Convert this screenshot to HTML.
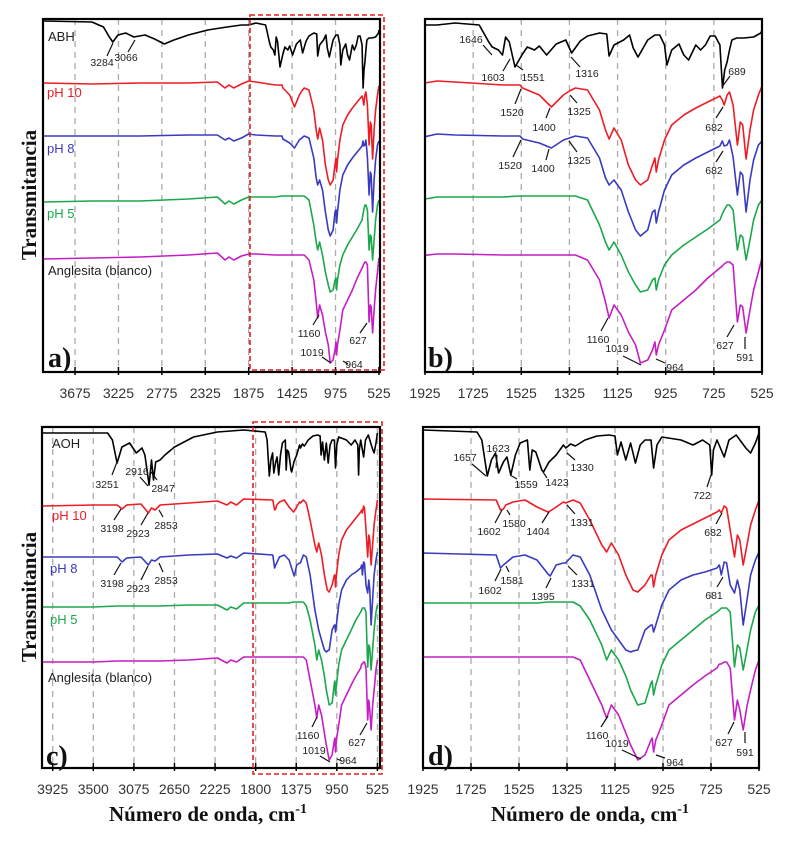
<!DOCTYPE html>
<html><head><meta charset="utf-8">
<style>
html,body{margin:0;padding:0;background:#fff;}
svg{display:block;}
text{font-family:"Liberation Sans",sans-serif;}
.tick{font-size:14px;fill:#333;text-anchor:middle;}
.ann{font-size:10.5px;fill:#222;text-anchor:middle;}
.lbl{font-size:13px;}
.ttl{font-family:"Liberation Serif",serif;font-weight:bold;}
</style></head>
<body>
<svg id="fig" width="791" height="846" viewBox="0 0 791 846" xmlns="http://www.w3.org/2000/svg">
<rect x="0" y="0" width="791" height="846" fill="#fff"/>
</svg>
<script>
// ---------- data (wavenumber cm-1, transmittance arbitrary units) ----------
const ticksAB_a = [3675,3225,2775,2325,1875,1425,975,525];
const ticksAB_b = [1925,1725,1525,1325,1125,925,725,525];
const ticksCD_c = [3925,3500,3075,2650,2225,1800,1375,950,525];
const ticksCD_d = [1925,1725,1525,1325,1125,925,725,525];

const abhWn = [4000,3500,3380,3320,3284,3230,3150,3066,2950,2850,2750,2650,2500,2300,2100,1950,1875,1800,1750,1700,1660,1646,1620,1603,1590,1575,1551,1520,1500,1470,1450,1420,1380,1340,1316,1280,1250,1200,1170,1160,1140,1100,1075,1060,1040,1000,970,950,930,920,900,870,850,830,800,780,760,740,720,700,695,689,680,670,660,650,630,600,560,530,525];
const abhT  = [351,350,345,335,330,337,339,335,337,333,328,332,337,342,345,347,347,349,348,347,330,325,322,317,335,330,305,318,325,322,326,317,328,332,319,331,336,339,338,316,327,332,337,324,315,332,337,337,327,307,322,328,317,312,327,322,327,336,336,327,307,284,302,310,322,332,334,334,335,339,342];

const redAWn = [4000,3500,3000,2500,2200,2120,2080,2030,1950,1875,1800,1600,1530,1520,1450,1400,1350,1325,1300,1250,1200,1175,1160,1140,1110,1080,1050,1030,1000,980,970,964,955,930,900,850,800,750,700,690,682,670,660,645,627,615,605,591,575,560,540,525];
const redAT  = [289,288,289,289,290,284,287,284,288,291,290,287,287,284,277,265,277,281,284,282,262,242,233,244,232,207,192,187,192,207,214,200,212,232,247,257,264,270,276,272,267,277,280,267,227,250,247,213,242,262,277,286];
const bluAT  = [236,236,236,237,237,232,234,231,234,238,237,236,236,233,229,224,232,234,236,234,214,194,187,192,182,160,142,136,142,160,162,149,160,182,197,207,214,220,226,231,226,227,232,215,177,200,197,160,192,212,227,231];
const grnAT  = [170,171,171,173,175,168,171,168,172,175,175,175,176,176,176,176,176,176,176,172,147,130,122,130,117,100,87,80,82,92,94,82,92,107,117,127,135,143,152,158,162,167,167,162,122,137,135,112,132,152,167,172];
const magAT  = [113,114,115,117,119,112,115,112,116,118,118,117,117,117,117,117,117,117,117,112,92,70,54,67,57,40,27,9,12,22,30,17,27,42,62,72,82,94,104,106,108,110,110,107,50,67,65,39,62,82,100,114];

const aohWn = [4030,3350,3300,3251,3200,3120,3050,2990,2960,2916,2890,2870,2847,2800,2750,2650,2450,2200,1925,1700,1680,1657,1640,1623,1610,1590,1575,1559,1540,1520,1490,1480,1470,1455,1430,1423,1400,1370,1340,1330,1310,1290,1250,1200,1150,1125,1115,1100,1080,1060,1040,1020,1000,975,964,950,930,850,800,760,730,722,715,700,670,650,620,580,560,540,525];
const aohT  = [335,335,328,305,321,325,315,320,313,283,308,288,306,308,313,321,331,336,338,336,328,292,308,315,295,306,311,293,313,325,328,298,318,316,298,296,306,313,323,320,324,322,328,332,333,332,313,326,308,325,305,323,328,328,300,323,331,328,323,328,323,293,318,328,311,328,333,320,315,325,335];

const cWn  = [4030,3500,3250,3198,3150,3000,2923,2890,2853,2800,2500,2200,2100,2060,2000,1925,1620,1602,1590,1580,1550,1500,1450,1404,1395,1370,1340,1331,1300,1270,1230,1180,1160,1140,1110,1080,1060,1050,1030,1000,975,970,964,955,930,900,850,800,750,700,690,682,670,660,645,627,615,605,591,575,560,540,525];
const redCT = [262,263,263,259,263,264,255,260,258,263,265,267,263,266,263,269,268,258,259,263,266,268,261,256,257,261,266,265,268,265,248,223,216,225,213,193,183,178,176,183,193,193,181,193,213,228,238,244,250,256,258,255,262,260,238,211,233,228,203,223,243,258,268];
const bluCT = [211,211,211,206,210,211,203,208,207,211,213,214,210,212,210,215,213,200,203,205,211,213,208,194,192,203,205,205,213,211,193,158,148,138,128,118,116,117,118,138,143,143,136,143,163,178,188,193,196,200,203,193,206,205,183,175,188,178,143,168,193,208,216];
const grnCT = [161,161,162,162,162,162,162,162,162,162,163,163,158,161,159,165,165,165,165,165,165,165,165,166,166,166,166,166,166,162,148,123,108,118,108,92,78,73,63,65,85,87,73,83,103,118,128,138,148,156,158,160,160,160,156,101,123,120,98,118,138,156,163];
const magCT = [106,106,107,107,107,107,107,107,107,107,108,110,105,108,106,111,111,111,111,111,111,111,111,111,111,111,111,111,111,108,88,63,50,63,53,35,23,18,8,13,28,30,16,28,43,63,73,83,92,100,104,104,106,106,100,48,68,58,38,62,78,98,108];

// ---------- panels ----------
const panels = [
 {id:'a', l:43, r:380, t:19, b:372, d0:4007, d1:514, ticks:ticksAB_a, base:372,
  series:[[abhWn,abhT,'#000'],[redAWn,redAT,'#ee1c25'],[redAWn,bluAT,'#3a3ac0'],[redAWn,grnAT,'#1ba84c'],[redAWn,magAT,'#c41fc4']]},
 {id:'b', l:425, r:762, t:19, b:372, d0:1925, d1:525, ticks:ticksAB_b, base:372,
  series:[[abhWn,abhT,'#000'],[redAWn,redAT,'#ee1c25'],[redAWn,bluAT,'#3a3ac0'],[redAWn,grnAT,'#1ba84c'],[redAWn,magAT,'#c41fc4']]},
 {id:'c', l:42, r:380, t:427, b:768, d0:4037, d1:498, ticks:ticksCD_c, base:768,
  series:[[aohWn,aohT,'#000'],[cWn,redCT,'#ee1c25'],[cWn,bluCT,'#3a3ac0'],[cWn,grnCT,'#1ba84c'],[cWn,magCT,'#c41fc4']]},
 {id:'d', l:423, r:759, t:427, b:768, d0:1925, d1:525, ticks:ticksCD_d, base:768,
  series:[[aohWn,aohT,'#000'],[cWn,redCT,'#ee1c25'],[cWn,bluCT,'#3a3ac0'],[cWn,grnCT,'#1ba84c'],[cWn,magCT,'#c41fc4']]}
];
const seriesNames = ['organic-reagent','ph10','ph8','ph5','anglesite-blank'];

const NS='http://www.w3.org/2000/svg';
const svg=document.getElementById('fig');
function mk(tag,attrs,parent){const e=document.createElementNS(NS,tag);for(const k in attrs)e.setAttribute(k,attrs[k]);(parent||svg).appendChild(e);return e;}

panels.forEach(p=>{
  const g=mk('g',{});
  
  
  const xs=v=>p.l+(p.d0-v)*(p.r-p.l)/(p.d0-p.d1);
  const ys=v=>p.base-v;
  const cp=mk('clipPath',{id:'clip'+p.id},g);
  mk('rect',{x:p.l,y:p.t,width:p.r-p.l,height:p.b-p.t},cp);
  p.ticks.forEach(tv=>{
    const x=xs(tv);
    if(x>p.l+2&&x<p.r-2){
      const gl=mk('line',{x1:x,y1:p.t,x2:x,y2:p.b,stroke:'#aaa','stroke-width':1.3,'stroke-dasharray':'6,5'},g);
      
      
    }
    const tm=mk('line',{x1:x,y1:p.b-5,x2:x,y2:p.b+3,stroke:'#000','stroke-width':1.5},g);
    
    
    const tl=mk('text',{x:x,y:p.b+26,class:'tick'},g);
    tl.textContent=tv;
    
    
  });
  p.series.forEach((s,i)=>{
    const [wn,tv,col]=s;
    let dstr='';
    wn.forEach((w,k)=>{dstr+=(k?'L':'M')+xs(w).toFixed(1)+','+ys(tv[k]).toFixed(1);});
    const pa=mk('path',{d:dstr,fill:'none',stroke:col,'stroke-width':1.6,'stroke-linejoin':'round','clip-path':'url(#clip'+p.id+')'},g);
    
    
  });
  const bx=mk('rect',{x:p.l,y:p.t,width:p.r-p.l,height:p.b-p.t,fill:'none',stroke:'#000','stroke-width':2.2},g);
  
  
});

// zoom boxes
[[250,15,134,355],[253,422,129,352]].forEach(r=>{
  const z=mk('rect',{x:r[0],y:r[1],width:r[2],height:r[3],fill:'none',stroke:'#e02020','stroke-width':1.6,'stroke-dasharray':'5,3'});
  
  
});

// series labels
const labels=[["ABH",48,41,'#222'],["pH 10",47,97,'#ee1c25'],["pH 8",47,153,'#3a3ac0'],["pH 5",47,218,'#1ba84c'],["Anglesita  (blanco)",48,275,'#222'],
 ["AOH",52,448,'#222'],["pH 10",52,520,'#ee1c25'],["pH 8",50,573,'#3a3ac0'],["pH 5",50,624,'#1ba84c'],["Anglesita  (blanco)",48,682,'#222']];
labels.forEach(l=>{
  const t=mk('text',{x:l[1],y:l[2],class:'lbl',fill:l[3]});
  t.textContent=l[0];
  
  
});

// peak annotations: text, tx, ty(center), line x1,y1,x2,y2
const anns=[
 ["3284",102,62,107,56,113,43],["3066",126,57,128,52,135,40],["1160",309,333,313,325,319,315],["627",358,340,360,333,367,323],["1019",312,352,322,357,331,363],["964",354,364,343,361,348,364],
 ["1646",471,39,483,45,492,55],["1603",493,77,503,71,510,59],["1551",533,77,523,70,516,65],["1316",587,73,580,67,571,57],["689",737,71,730,76,722,87],
 ["1520",512,112,515,104,521,89],["1400",544,127,546,118,550,108],["1325",579,111,577,103,570,95],["682",714,127,716,118,723,107],
 ["1520",510,165,513,157,521,140],["1400",543,168,546,160,549,149],["1325",579,160,577,152,569,141],["682",714,170,716,162,723,151],
 ["1160",598,339,601,331,608,318],["1019",617,348,623,356,641,365],["964",675,367,656,359,665,363],["627",725,345,727,337,734,325],["591",745,357,745,349,745,337],
 ["3251",107,484,112,475,117,462],["2916",137,471,140,477,148,486],["2847",163,488,157,480,151,472],
 ["3198",112,528,114,520,121,509],["2923",138,533,141,525,148,513],["2853",166,525,163,517,159,510],
 ["3198",112,583,114,575,121,563],["2923",138,588,141,580,148,566],["2853",166,580,163,572,159,563],
 ["1160",308,735,312,727,317,717],["627",357,742,360,735,367,723],["1019",314,750,320,756,330,762],["964",348,760,337,759,342,761],
 ["1657",465,457,472,464,486,476],["1623",498,448,497,455,496,468],["1559",526,484,517,479,510,475],["1423",557,482,547,478,543,472],["1330",582,467,575,460,567,453],["722",702,495,707,487,711,475],
 ["1602",489,531,495,523,502,510],["1580",514,523,510,515,507,510],["1404",538,531,542,523,549,512],["1331",582,522,575,514,567,505],["682",713,532,716,524,722,513],
 ["1602",490,590,495,581,501,569],["1581",512,580,509,572,506,566],["1395",543,596,546,588,551,578],["1331",583,583,577,575,568,566],["681",714,595,717,587,723,577],
 ["1160",597,735,601,727,608,716],["1019",617,743,622,750,641,759],["964",675,762,656,755,665,758],["627",724,742,728,734,734,722],["591",745,752,745,743,745,732]
];
anns.forEach(a=>{
  const ln=mk('line',{x1:a[3],y1:a[4],x2:a[5],y2:a[6],stroke:'#111','stroke-width':1.2});
  
  
  const t=mk('text',{x:a[1],y:a[2]+4,class:'ann'});
  t.textContent=a[0];
  
  
});

// panel letters
[["a)",48,367],["b)",428,367],["c)",46,765],["d)",428,765]].forEach(l=>{
  const t=mk('text',{x:l[1],y:l[2],class:'ttl','font-size':28,fill:'#111'});
  t.textContent=l[0];
  
  
});

// y-axis titles
[[36,195],[36,597]].forEach(p=>{
  const t=mk('text',{x:p[0],y:p[1],class:'ttl','font-size':21,'text-anchor':'middle',fill:'#111',transform:'rotate(-90 '+p[0]+' '+p[1]+')'});
  t.textContent='Transmitancia';
  
  
});
// x-axis titles
[[208,821],[590,821]].forEach(p=>{
  const t=mk('text',{x:p[0],y:p[1],class:'ttl','font-size':21,'text-anchor':'middle',fill:'#111'});
  t.textContent='Número de onda, cm';
  const sp=mk('tspan',{dy:-8,'font-size':14},t);
  sp.textContent='-1';
  
  
});
</script>
</body></html>
